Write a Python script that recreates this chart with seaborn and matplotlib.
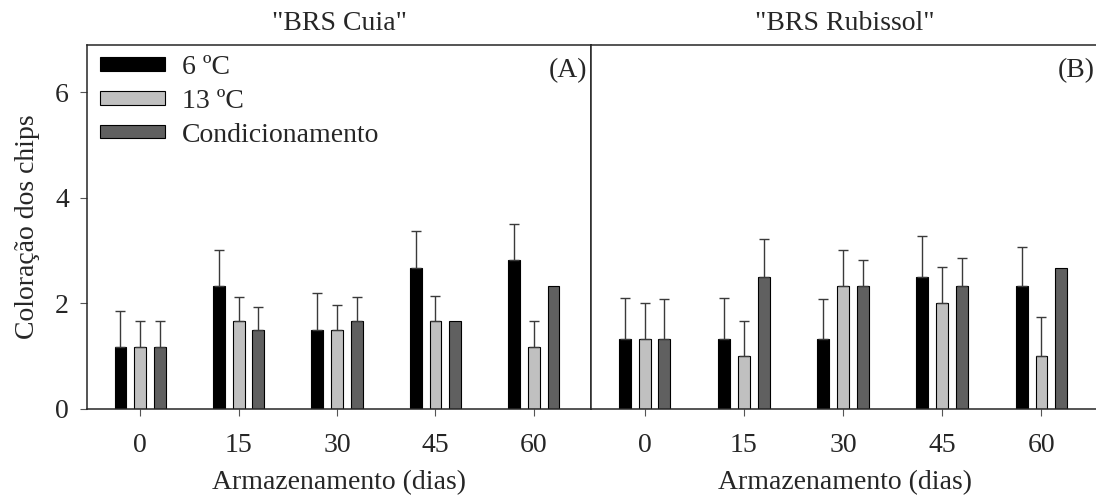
import numpy as np
import pandas as pd
import matplotlib
matplotlib.use("Agg")
import matplotlib.pyplot as plt
from matplotlib.patches import Patch
import seaborn as sns

# Storage time (days) and treatments
days = [0, 15, 30, 45, 60]
treatments = ["6 ºC", "13 ºC", "Condicionamento"]

# "BRS Cuia": means and standard deviations
cuia_6 = [1.17, 2.33, 1.50, 2.67, 2.83]
cuia_13 = [1.17, 1.67, 1.50, 1.67, 1.17]
cuia_cond = [1.17, 1.50, 1.67, 1.67, 2.33]
cuia_6_sd = [0.69, 0.68, 0.70, 0.71, 0.68]
cuia_13_sd = [0.49, 0.46, 0.48, 0.48, 0.50]
cuia_cond_sd = [0.49, 0.44, 0.45, 0.0, 0.0]

# "BRS Rubissol": means and standard deviations
rub_6 = [1.33, 1.33, 1.33, 2.50, 2.33]
rub_13 = [1.33, 1.00, 2.33, 2.00, 1.00]
rub_cond = [1.33, 2.50, 2.33, 2.33, 2.67]
rub_6_sd = [0.78, 0.78, 0.76, 0.78, 0.75]
rub_13_sd = [0.67, 0.67, 0.68, 0.70, 0.74]
rub_cond_sd = [0.75, 0.73, 0.49, 0.53, 0.0]

panels = [
    ('"BRS Cuia"', "(A)", [cuia_6, cuia_13, cuia_cond], [cuia_6_sd, cuia_13_sd, cuia_cond_sd]),
    ('"BRS Rubissol"', "(B)", [rub_6, rub_13, rub_cond], [rub_6_sd, rub_13_sd, rub_cond_sd]),
]

colors = ["#000000", "#c0c0c0", "#606060"]
palette = dict(zip(treatments, colors))

sns.set_theme(style="white")
plt.rcParams["font.family"] = ["Liberation Serif", "DejaVu Serif"]
plt.rcParams["font.size"] = 20

W, H = 1096, 499
fig = plt.figure(figsize=(W / 100, H / 100), dpi=100)

def px_axes(left, right, top, bottom):
    return fig.add_axes([left / W, 1 - bottom / H, (right - left) / W, (bottom - top) / H])

ax_a = px_axes(87, 591, 45, 409)
ax_b = px_axes(591, 1099, 45, 409)
spine_col = "#262626"

for ax, (title, tag, means, sds) in zip([ax_a, ax_b], panels):
    rows = []
    for t, vals in zip(treatments, means):
        for d, v in zip(days, vals):
            rows.append({"dia": str(d), "trat": t, "valor": v})
    df = pd.DataFrame(rows)
    sns.barplot(data=df, x="dia", y="valor", hue="trat", order=[str(d) for d in days],
                hue_order=treatments, palette=palette, width=0.6, gap=0.4,
                errorbar=None, edgecolor="black", linewidth=0.8, ax=ax, legend=False)

    # upper-only standard deviation bars with caps
    for cont, sd in zip(ax.containers, sds):
        for bar, s in zip(cont, sd):
            if s <= 0:
                continue
            x = bar.get_x() + bar.get_width() / 2
            y = bar.get_height()
            ax.errorbar(x, y, yerr=[[0], [s]], fmt="none", ecolor="#3a3a3a",
                        elinewidth=1.0, capsize=3.3, capthick=1.0, zorder=1)

    ax.set_xlim(-0.54, 4.58)
    ax.set_ylim(0, 6.9)
    ax.set_title(title, fontsize=20, pad=11)
    ax.set_xlabel("Armazenamento (dias)", fontsize=20, labelpad=9)
    ax.text(0.992, 0.965, tag, transform=ax.transAxes, ha="right", va="top", fontsize=20)
    ax.tick_params(axis="x", direction="out", length=5, width=0.8, color="#555555",
                   labelsize=20, pad=12, bottom=True)
    for sp in ax.spines.values():
        sp.set_color(spine_col)
        sp.set_linewidth(1.1)

ax_a.set_ylabel("Coloração dos chips", fontsize=20, labelpad=11)
ax_a.set_yticks([0, 2, 4, 6])
ax_a.tick_params(axis="y", direction="out", length=5, width=0.8, color="#555555",
                 labelsize=20, pad=8, left=True)
ax_b.set_ylabel("")
ax_b.set_yticks([])
ax_b.spines["right"].set_visible(False)

handles = [Patch(facecolor=c, edgecolor="black", linewidth=0.8, label=t)
           for t, c in zip(treatments, colors)]
ax_a.legend(handles=handles, loc="upper left", bbox_to_anchor=(13 / 504, 1 - 10 / 364),
            frameon=False, fontsize=20, handlelength=2.34, handleheight=0.36,
            handletextpad=0.6, labelspacing=0.32, borderpad=0, borderaxespad=0)

fig.savefig("out.png", dpi=100)
